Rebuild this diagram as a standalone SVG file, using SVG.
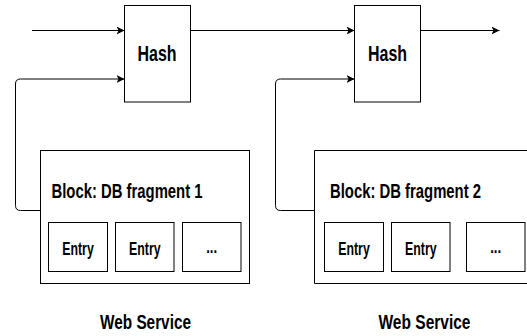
<svg xmlns="http://www.w3.org/2000/svg" width="527" height="336" viewBox="0 0 527 336">
  <defs>
    <marker id="arrow" markerUnits="userSpaceOnUse" markerWidth="10" markerHeight="10" refX="8" refY="4" orient="auto">
      <path d="M0,0 L8,4 L0,8 L2,4 Z" fill="#000"/>
    </marker>
    <style>
      .box { fill: #fff; stroke: #000; stroke-width: 1; }
      .open { fill: none; stroke: #000; stroke-width: 1; }
      .edge { fill: none; stroke: #000; stroke-width: 1; marker-end: url(#arrow); }
      text { font-family: "Liberation Sans", Arial, sans-serif; font-weight: bold; fill: #000; }
      .hash { font-size: 21.5px; text-anchor: middle; }
      .block { font-size: 20.5px; }
      .entry { font-size: 19px; text-anchor: middle; }
      .svc { font-size: 20px; text-anchor: middle; }
    </style>
  </defs>

  <!-- connectors -->
  <g id="connectors">
    <path class="edge" d="M32,30.5 H124.5"/>
    <path class="edge" d="M190.5,30.5 H354.5"/>
    <path class="edge" d="M420.5,30.5 H499.5"/>
    <path class="edge" d="M40.5,210.5 H20.5 Q15.5,210.5 15.5,205.5 V84 Q15.5,79 20.5,79 H124.5"/>
    <path class="edge" d="M314.5,210.5 H280.5 Q275.5,210.5 275.5,205.5 V84 Q275.5,79 280.5,79 H354.5"/>
  </g>

  <!-- hash nodes -->
  <g id="hash1">
    <rect class="box" x="124.5" y="5.5" width="66" height="96.5"/>
    <text class="hash" x="157" y="60.5" textLength="39" lengthAdjust="spacingAndGlyphs">Hash</text>
  </g>
  <g id="hash2">
    <rect class="box" x="354.5" y="5.5" width="66" height="96.5"/>
    <text class="hash" x="387.5" y="60.5" textLength="39" lengthAdjust="spacingAndGlyphs">Hash</text>
  </g>

  <!-- block 1 -->
  <g id="block1">
    <rect class="box" x="40.5" y="150.5" width="209" height="133"/>
    <text class="block" transform="translate(51.5,197.5) scale(0.725,1)">Block: DB fragment 1</text>
  </g>
  <g id="block1-entry1">
    <rect class="box" x="48.5" y="222.5" width="59" height="49"/>
    <text class="entry" x="78" y="254.5" textLength="31.5" lengthAdjust="spacingAndGlyphs">Entry</text>
  </g>
  <g id="block1-entry2">
    <rect class="box" x="115.5" y="222.5" width="58.5" height="49"/>
    <text class="entry" x="144.8" y="254.5" textLength="31.5" lengthAdjust="spacingAndGlyphs">Entry</text>
  </g>
  <g id="block1-more">
    <rect class="box" x="182.5" y="222.5" width="58.5" height="49"/>
    <text class="entry" x="211.7" y="253" textLength="11" lengthAdjust="spacingAndGlyphs">...</text>
  </g>
  <g id="service1">
    <text class="svc" x="145.5" y="328.5" textLength="91" lengthAdjust="spacingAndGlyphs">Web Service</text>
  </g>

  <!-- block 2: its right side lies past the canvas edge, so only top, left and bottom show -->
  <g id="block2">
    <path class="open" d="M527,150.5 H314.5 V283.5 H527"/>
    <text class="block" transform="translate(330,197.5) scale(0.725,1)">Block: DB fragment 2</text>
  </g>
  <g id="block2-entry1">
    <rect class="box" x="324.5" y="222.5" width="59" height="49"/>
    <text class="entry" x="354" y="254.5" textLength="31.5" lengthAdjust="spacingAndGlyphs">Entry</text>
  </g>
  <g id="block2-entry2">
    <rect class="box" x="391.5" y="222.5" width="58.5" height="49"/>
    <text class="entry" x="420.8" y="254.5" textLength="31.5" lengthAdjust="spacingAndGlyphs">Entry</text>
  </g>
  <g id="block2-more">
    <rect class="box" x="466.5" y="222.5" width="58.5" height="49"/>
    <text class="entry" x="495.7" y="253" textLength="11" lengthAdjust="spacingAndGlyphs">...</text>
  </g>
  <g id="service2">
    <text class="svc" x="424.5" y="328.5" textLength="92" lengthAdjust="spacingAndGlyphs">Web Service</text>
  </g>
</svg>
